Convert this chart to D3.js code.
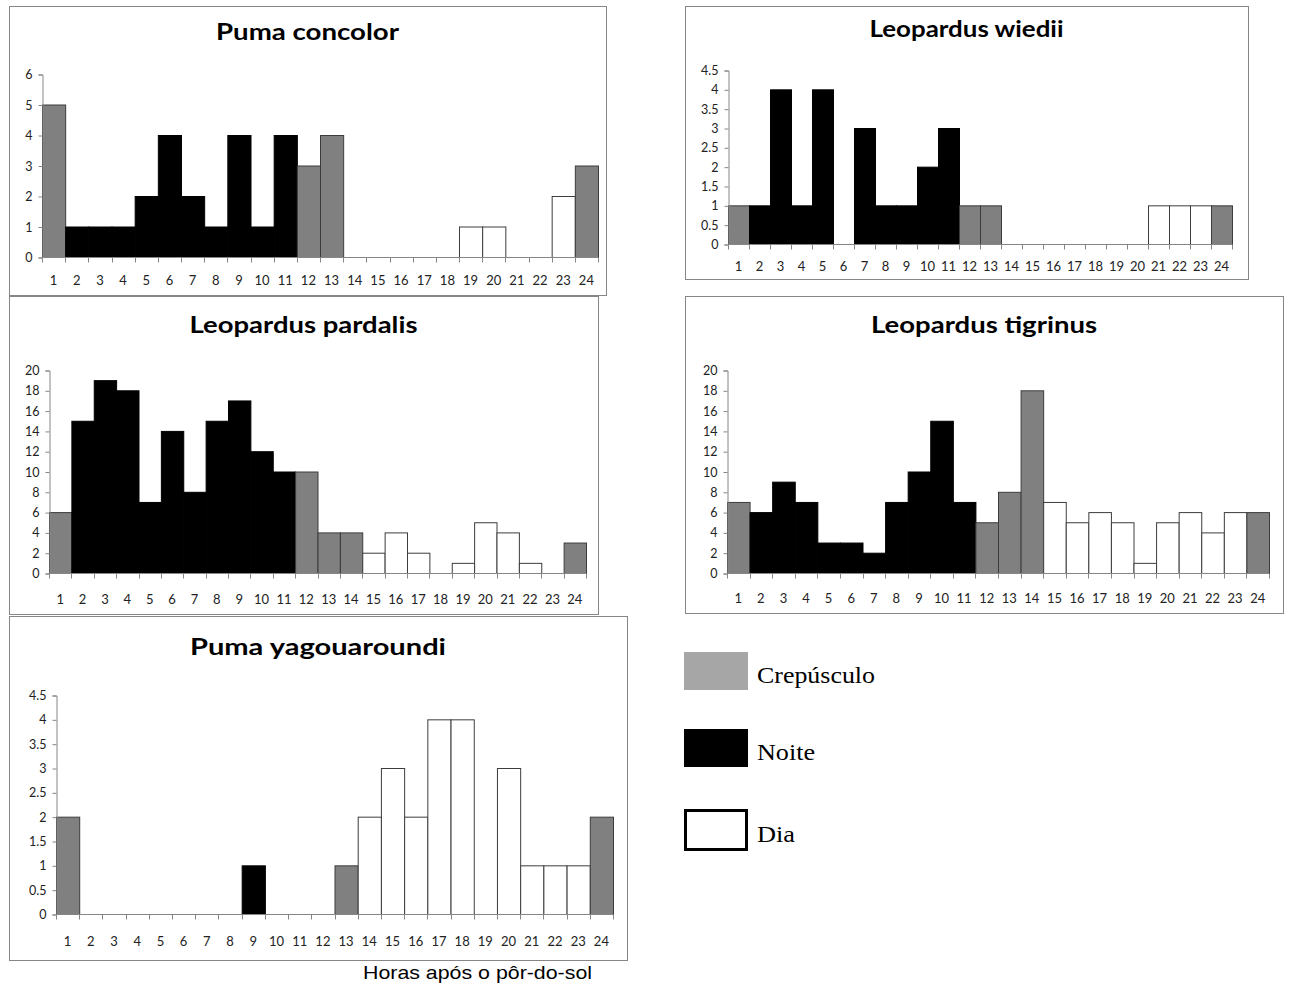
<!DOCTYPE html>
<html>
<head>
<meta charset="utf-8">
<script src="https://cdn.jsdelivr.net/npm/d3@7"></script>
<style>
  body { margin: 0; background: #fff; }
  svg { display: block; }
  .tick text { font-family: Lato, "Open Sans", sans-serif; font-size: 12.5px; fill: #222; }
</style>
</head>
<body>
<svg id="chart" width="1290" height="986"></svg>
<script>
// hours after sunset
const hours = d3.range(1, 25);

// records per hour, one array per species
const pumaConcolor = [5, 1, 1, 1, 2, 4, 2, 1, 4, 1, 4, 3, 4, 0, 0, 0, 0, 0, 1, 1, 0, 0, 2, 3];
const leopardusWiedii = [1, 1, 4, 1, 4, 0, 3, 1, 1, 2, 3, 1, 1, 0, 0, 0, 0, 0, 0, 0, 1, 1, 1, 1];
const leopardusPardalis = [6, 15, 19, 18, 7, 14, 8, 15, 17, 12, 10, 10, 4, 4, 2, 4, 2, 0, 1, 5, 4, 1, 0, 3];
const leopardusTigrinus = [7, 6, 9, 7, 3, 3, 2, 7, 10, 15, 7, 5, 8, 18, 7, 5, 6, 5, 1, 5, 6, 4, 6, 6];
const pumaYagouaroundi = [2, 0, 0, 0, 0, 0, 0, 0, 1, 0, 0, 0, 1, 2, 3, 2, 4, 4, 0, 3, 1, 1, 1, 2];

// period of each hour: c = crepúsculo, n = noite, d = dia
const phaseConcolor = "cnnnnnnnnnnccddddddddddc".split("");
const phaseWiedii = "cnnnnnnnnnnccddddddddddc".split("");
const phasePardalis = "cnnnnnnnnnncccdddddddddc".split("");
const phaseTigrinus = "cnnnnnnnnnncccdddddddddc".split("");
const phaseYagouaroundi = "cnnnnnnnnnnncddddddddddc".split("");

const legendLabels = ["Crepúsculo", "Noite", "Dia"];
const xTitle = "Horas após o pôr-do-sol";

const fills = { c: "#808080", n: "#000000", d: "#ffffff" };

// the source image is stretched sideways, so titles get a fixed text length
const panels = [
  { title: "Puma concolor", values: pumaConcolor, phases: phaseConcolor, max: 6, step: 1,
    box: [9, 6, 597, 289], plot: [42, 598, 74, 257], titleY: 40, titleLen: 183, labelY: 285 },
  { title: "Leopardus wiedii", values: leopardusWiedii, phases: phaseWiedii, max: 4.5, step: 0.5,
    box: [685, 6, 563, 273], plot: [728, 1232, 70, 244], titleY: 37, titleLen: 194, labelY: 271 },
  { title: "Leopardus pardalis", values: leopardusPardalis, phases: phasePardalis, max: 20, step: 2,
    box: [9, 296, 589, 318], plot: [49, 586, 370, 573], titleY: 333, titleLen: 228, labelY: 604 },
  { title: "Leopardus tigrinus", values: leopardusTigrinus, phases: phaseTigrinus, max: 20, step: 2,
    box: [685, 296, 598, 317], plot: [727, 1269, 370, 573], titleY: 333, titleLen: 226, labelY: 603 },
  { title: "Puma yagouaroundi", values: pumaYagouaroundi, phases: phaseYagouaroundi, max: 4.5, step: 0.5,
    box: [9, 616, 618, 344], plot: [56, 613, 695, 914], titleY: 655, titleLen: 256, labelY: 946 }
];

const svg = d3.select("#chart");

panels.forEach(p => {
  const g = svg.append("g");
  const [bx, by, bw, bh] = p.box;
  const [left, right, top, bottom] = p.plot;

  g.append("rect")
    .attr("x", bx + 0.5).attr("y", by + 0.5)
    .attr("width", bw).attr("height", bh)
    .attr("fill", "#fff").attr("stroke", "#868686");

  g.append("text")
    .attr("x", bx + bw / 2 - p.titleLen / 2).attr("y", p.titleY)
    .attr("font-family", "Lato, 'Open Sans', sans-serif")
    .attr("font-weight", "bold").attr("font-size", 22)
    .attr("textLength", p.titleLen).attr("lengthAdjust", "spacingAndGlyphs")
    .text(p.title);

  const x = d3.scaleBand().domain(hours).range([left, right]).padding(0);
  const y = d3.scaleLinear().domain([0, p.max]).range([bottom, top]);

  const rows = hours.map((h, i) => ({ h, v: p.values[i], ph: p.phases[i] }));

  g.selectAll("rect.bar")
    .data(rows.filter(d => d.v > 0))
    .join("rect")
    .attr("class", "bar")
    .attr("x", d => x(d.h) + 0.5)
    .attr("y", d => y(d.v) + 0.5)
    .attr("width", x.bandwidth())
    .attr("height", d => y(0) - y(d.v))
    .attr("fill", d => fills[d.ph])
    .attr("stroke", d => d.ph === "n" ? "#000" : "#3c3c3c")
    .attr("stroke-width", 1);

  // y axis
  const yTicks = d3.range(0, p.max + p.step / 2, p.step);
  const yAxis = g.append("g")
    .attr("transform", `translate(${left + 0.5},0.5)`)
    .call(d3.axisLeft(y).tickValues(yTicks).tickSize(4).tickPadding(6).tickFormat(d3.format("")));
  yAxis.selectAll("path, line").attr("stroke", "#868686");

  // x axis: ticks at category boundaries, labels centered
  const xg = g.append("g").attr("transform", `translate(0,${bottom + 0.5})`);
  xg.append("line").attr("x1", left).attr("x2", right).attr("stroke", "#868686");
  const bounds = d3.range(0, 25).map(i => left + i * x.step());
  xg.selectAll("line.tk").data(bounds).join("line")
    .attr("class", "tk")
    .attr("x1", d => Math.round(d) + 0.5).attr("x2", d => Math.round(d) + 0.5)
    .attr("y1", 0).attr("y2", 5).attr("stroke", "#868686");
  g.selectAll("text.xl").data(hours).join("text")
    .attr("class", "xl")
    .attr("x", d => x(d) + x.bandwidth() / 2)
    .attr("y", p.labelY)
    .attr("text-anchor", "middle")
    .attr("font-family", "Lato, 'Open Sans', sans-serif")
    .attr("font-size", 13).attr("fill", "#222")
    .text(d => d);
});

svg.append("text")
  .attr("x", 363).attr("y", 979)
  .attr("font-family", "'Liberation Sans', Arial, sans-serif")
  .attr("font-size", 19)
  .attr("textLength", 229).attr("lengthAdjust", "spacingAndGlyphs")
  .text(xTitle);

// legend
const legend = svg.append("g");
const legendStyles = [
  { fill: "#a6a6a6", stroke: "none", sw: 0, len: 118 },
  { fill: "#000", stroke: "none", sw: 0, len: 58 },
  { fill: "#fff", stroke: "#000", sw: 3, len: 38 }
];
const legendY = [652, 729, 809];
legendLabels.forEach((lab, i) => {
  const s = legendStyles[i];
  legend.append("rect")
    .attr("x", 684 + s.sw / 2).attr("y", legendY[i] + s.sw / 2)
    .attr("width", 64 - s.sw).attr("height", 38 - s.sw + (i === 2 ? 4 : 0))
    .attr("fill", s.fill).attr("stroke", s.stroke).attr("stroke-width", s.sw);
  legend.append("text")
    .attr("x", 757).attr("y", legendY[i] + 31 + (i === 2 ? 2 : 0))
    .attr("font-family", "'Liberation Serif', 'Times New Roman', serif")
    .attr("font-size", 24)
    .attr("textLength", s.len).attr("lengthAdjust", "spacingAndGlyphs")
    .text(lab);
});
</script>
</body>
</html>
